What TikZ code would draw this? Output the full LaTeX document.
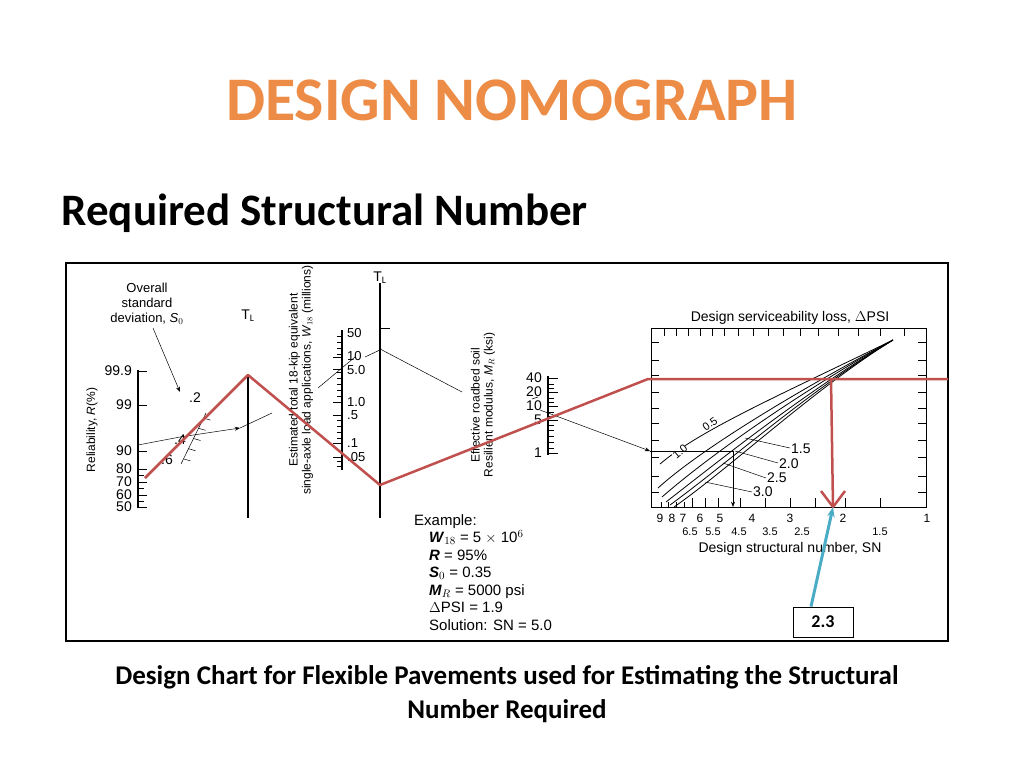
\documentclass[tikz,border=0pt]{standalone}
\usepackage{fontspec}
\setmainfont{Carlito}
\newfontfamily\chartfont{Liberation Sans}
\usetikzlibrary{arrows.meta, calc}
\definecolor{titleorange}{RGB}{236,140,70}
\definecolor{redline}{RGB}{192,80,77}
\definecolor{bluearrow}{RGB}{75,172,198}

\begin{document}
\begin{tikzpicture}[x=1pt, y=-1pt,
        axis/.style={line width=1.2pt},
        thin/.style={line width=0.5pt},
        lbl/.style={font=\chartfont\fontsize{14}{15}\selectfont, inner sep=1pt},
        rotlbl/.style={font=\chartfont\fontsize{12}{13}\selectfont, rotate=90, align=center, inner sep=0pt},
        redpath/.style={redline, line width=2.5pt, line join=round},
        curve/.style={line width=0.8pt},
        titlefont/.style={font=\bfseries\fontsize{62}{64}\selectfont}
    ]
    \useasboundingbox (0,0) rectangle (1024,768);
    % Headings
    \node[titlefont, text=titleorange] (title) at (512,100) {DESIGN NOMOGRAPH};
    \node[anchor=west, font=\bfseries\fontsize{45}{47}\selectfont] (heading) at (58,213) {Required Structural Number};
    \node[font=\bfseries\fontsize{27}{34}\selectfont, align=center] (caption) at (507,694)
        {Design Chart for Flexible Pavements used for Estimating the Structural\\Number Required};

    % Frame
    \draw[line width=2.5pt] (66,263) rectangle (948,641);

    % Reliability scale
    \draw[axis] (138,370) -- (138,508);
    \foreach \y/\t in {371/99.9,405/99,451/90,469/80,482/70,495/60,507/50}{
        \draw[thin] (138,\y) -- (147,\y);
        \node[lbl, anchor=east] at (133,\y) {\t};
    }
    \foreach \y in {475,488,501}{\draw[thin] (138,\y) -- (144,\y);}
    \node[rotlbl] (rel) at (92,430) {Reliability, \textit{R}(\%)};

    % Standard deviation scale
    \node[lbl, align=center, font=\chartfont\fontsize{13}{15}\selectfont] (sdev) at (147,304) {Overall\\standard\\deviation, \textit{S}$_0$};
    \draw[thin, -Stealth] (153,328) -- (180,392);
    \draw[thin] (206,413) -- (181,464);
    \foreach \f in {0.1,0.3,0.5,0.7,0.9}{
        \draw[thin] ($(206,413)!\f!(181,464)$) -- ++(7,2);
    }
    \node[lbl] at (195,398) {.2};
    \node[lbl] at (180,440) {.4};
    \node[lbl] at (167,460) {.6};
    \draw[thin] (138,445) -- (180,437);
    \draw[thin, -Stealth] (180,437) -- (240,428);
    \draw[thin] (240,428) -- (272,413);

    % First turning line
    \draw[axis] (248,375) -- (248,518);
    \node[lbl] (tl1) at (248,316) {T$_\mathrm{L}$};

    % W18 scale
    \draw[axis] (342,330) -- (342,470);
    \foreach \y in {336,342,348,354,372,378,384,390,396,420,426,432,438,461,466}{
        \draw[thin] (342,\y) -- (337,\y);
    }
    \foreach \y in {357,369,402,415,443,457}{\draw[thin] (342,\y) -- (333,\y);}
    \foreach \y/\t in {333/50,356/10,370/5.0,402/1.0,415/.5,443/.1,457/.05}{
        \node[lbl, anchor=west, font=\chartfont\fontsize{13}{14}\selectfont] at (346,\y) {\t};
    }
    \node[rotlbl] (w18) at (301,380) {Estimated total 18-kip equivalent\\single-axle load applications, \textit{W}$_{18}$ (millions)};
    \draw[thin] (318,388) -- (355,357);

    % Second turning line
    \draw[axis] (380,283) -- (380,518);
    \draw[thin] (380,328) -- (390,328);
    \node[lbl] (tl2) at (380,278) {T$_\mathrm{L}$};
    \draw[thin] (365,357) -- (382,349);
    \draw[thin] (382,350) -- (462,392);

    % Resilient modulus scale
    \draw[axis] (548,376) -- (548,455);
    \foreach \y/\t in {378/40,392/20,406/10,420/5,453/1}{
        \draw[thin] (548,\y) -- (558,\y);
        \node[lbl, anchor=east] at (543,\y) {\t};
    }
    \foreach \y in {384,388,398,402,412,416,425,430,436,442,448}{\draw[thin] (548,\y) -- (554,\y);}
    \node[rotlbl] (mr) at (483,405) {Effective roadbed soil\\Resilient modulus, \textit{M}$_R$ (ksi)};
    \draw[thin] (532,399) -- (538,397);
    \draw[thin, -Stealth] (540,410) -- (650,451);

    % Structural number chart
    \draw[line width=1pt] (651,328) rectangle (926,507);
    \node[lbl] (psi) at (790,318) {Design serviceability loss, $\Delta$PSI};
    \foreach \x in {664,676,688,700,712,724,738,753,768,783,800,818,838,858,880,904}{
        \draw[thin] (\x,328) -- (\x,336);
    }
    \foreach \y in {342,360,375,392,408,423,440,457,476,492}{
        \draw[thin] (651,\y) -- (659,\y);
        \draw[thin] (926,\y) -- (918,\y);
    }
    \foreach \x/\h in {661/5,668/5,676/5,684/5,692/9,705/9,718/9,740/9,765/9,790/9,815/9,845/9,880/9}{
        \draw[thin] (\x,507) -- (\x,507-\h);
    }
    \foreach \x/\t in {660/9,672/8,683/7,700/6,720/5,752/4,790/3,843/2,927/1}{
        \node[lbl, font=\chartfont\fontsize{12}{13}\selectfont] at (\x,518) {\t};
    }
    \foreach \x/\t in {690/6.5,713/5.5,739/4.5,770/3.5,802/2.5,880/1.5}{
        \node[lbl, font=\chartfont\fontsize{11}{12}\selectfont] at (\x,532) {\t};
    }
    \node[lbl] (sn) at (790,549) {Design structural number, SN};
    % serviceability curves
    \draw[curve] (660,464) .. controls (700,430) and (780,395) .. (893,340);
    \draw[curve] (658,488) .. controls (700,450) and (790,395) .. (893,340);
    \draw[curve] (662,497) .. controls (710,455) and (800,392) .. (893,340);
    \draw[curve] (666,502) .. controls (720,460) and (805,392) .. (893,340);
    \draw[curve] (670,505) .. controls (725,465) and (810,390) .. (893,340);
    \draw[curve] (674,507) .. controls (730,468) and (815,388) .. (893,340);
    \node[lbl, rotate=35, fill=white, inner sep=0pt, font=\chartfont\fontsize{11}{12}\selectfont] at (710,424) {0.5};
    \node[lbl, rotate=40, fill=white, inner sep=0pt, font=\chartfont\fontsize{11}{12}\selectfont] at (680,452) {1.0};
    \draw[thin] (745,438) -- (790,448); \node[lbl, anchor=west] at (790,449) {1.5};
    \draw[thin] (735,451) -- (778,463); \node[lbl, anchor=west] at (778,464) {2.0};
    \draw[thin] (723,463) -- (766,478); \node[lbl, anchor=west] at (766,478) {2.5};
    \draw[thin] (705,482) -- (752,492); \node[lbl, anchor=west] at (752,492) {3.0};
    \draw[thin] (650,451) -- (733,451);
    \draw[thin, -Stealth] (733,451) -- (733,507);

    % Example
    \node[lbl, anchor=north west, align=left, font=\chartfont\fontsize{15}{17.5}\selectfont] (example) at (413,513)
        {Example:\\
        \quad\textbf{\textit{W}}$_{18}$ = 5 $\times$ 10$^6$\\
        \quad\textbf{\textit{R}} = 95\%\\
        \quad\textbf{\textit{S}}$_0$ = 0.35\\
        \quad\textbf{\textit{M}}$_R$ = 5000 psi\\
        \quad$\Delta$PSI = 1.9\\
        \quad Solution: SN = 5.0};

    % Solution path
    \draw[redpath] (145,478) -- (248,375) -- (380,485) -- (648,379) -- (948,379);
    \coordinate (turn) at (831,379);
    \coordinate (snpt) at (833,507);
    \draw[redpath] (turn) -- (snpt);
    \draw[redpath] (821,491) -- (833,507) -- (845,491);

    % Answer box
    \node[draw, line width=0.8pt, minimum width=60pt, minimum height=30pt, font=\bfseries\fontsize{18}{20}\selectfont] (answer) at (823,622) {2.3};
    \draw[bluearrow, line width=3pt, -{Stealth[length=10pt]}] (answer.north) ++(-12,0) -- (snpt);
\end{tikzpicture}
\end{document}
